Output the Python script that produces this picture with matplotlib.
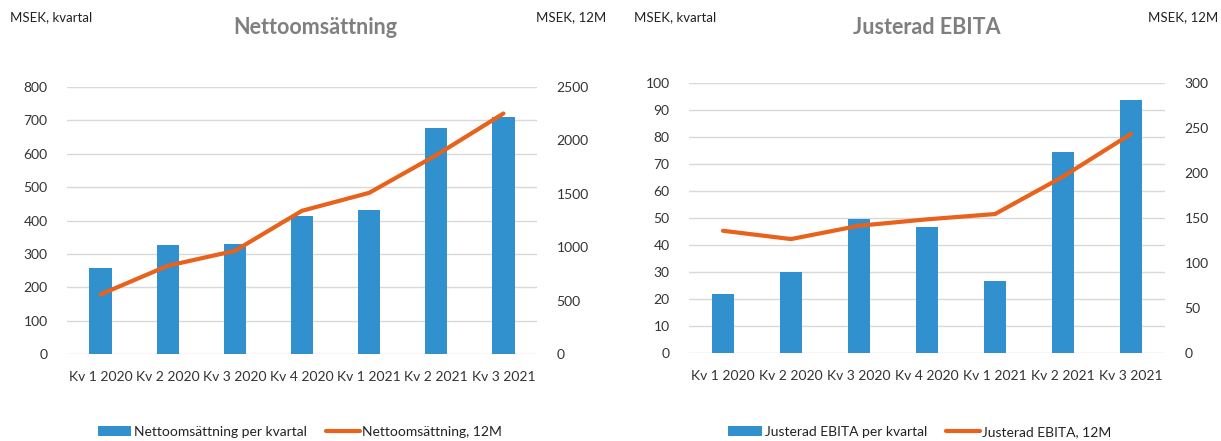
import numpy as np
import matplotlib.pyplot as plt

plt.rcParams['font.family'] = ['Lato', 'DejaVu Sans']

quarters = ["Kv 1 2020", "Kv 2 2020", "Kv 3 2020", "Kv 4 2020",
            "Kv 1 2021", "Kv 2 2021", "Kv 3 2021"]

# Nettoomsättning (MSEK)
sales_q = [257, 326, 329, 414, 430, 676, 711]
sales_12m = [558, 826, 966, 1341, 1509, 1862, 2252]

# Justerad EBITA (MSEK)
ebita_q = [22.0, 30.1, 49.5, 46.5, 26.6, 74.6, 93.8]
ebita_12m = [135.8, 126.6, 141.4, 148.5, 154.4, 196.0, 243.5]

BLUE = '#3091ce'
ORANGE = '#e8621b'
GRID = '#d9d9d9'
TXT = '#333333'

W, H = 1221, 441
fig = plt.figure(figsize=(W / 100, H / 100), dpi=100)


def px(x0, y0, x1, y1):
    # pixel box -> figure fraction rect
    return [x0 / W, 1 - y1 / H, (x1 - x0) / W, (y1 - y0) / H]


def panel(rect, bars, line, ymax, ystep, y2max, y2step, title, bar_lab, line_lab,
          title_x, left_x, right_x, leg_x):
    ax = fig.add_axes(px(*rect))
    x = np.arange(len(quarters))
    ax.bar(x, bars, width=0.33, color=BLUE, zorder=2, label=bar_lab)
    ax.set_xlim(-0.5, len(quarters) - 0.5)
    ax.set_ylim(0, ymax)
    ax.set_yticks(np.arange(0, ymax + ystep / 2, ystep))
    ax.set_xticks(x)
    ax.set_xticklabels(quarters)
    ax.grid(axis='y', color=GRID, linewidth=1, zorder=0)
    ax.set_axisbelow(True)
    for s in ax.spines.values():
        s.set_visible(False)
    ax.tick_params(length=0, labelsize=10, colors=TXT, pad=14)
    ax.tick_params(axis='x', pad=12)

    ax2 = ax.twinx()
    ax2.plot(x, line, color=ORANGE, linewidth=3, zorder=3, label=line_lab,
             solid_capstyle='round')
    ax2.set_ylim(0, y2max)
    ax2.set_yticks(np.arange(0, y2max + y2step / 2, y2step))
    for s in ax2.spines.values():
        s.set_visible(False)
    ax2.tick_params(length=0, labelsize=10, colors=TXT, pad=14)

    fig.text(title_x / W, 1 - 28 / H, title, ha='center', va='center',
             fontsize=15.5, fontweight='bold', color='#7f7f7f')
    fig.text(left_x / W, 1 - 17 / H, "MSEK, kvartal", ha='left', va='center',
             fontsize=9.5, color='#222222')
    fig.text(right_x / W, 1 - 17 / H, "MSEK, 12M", ha='right', va='center',
             fontsize=9.5, color='#222222')

    h1, l1 = ax.get_legend_handles_labels()
    h2, l2 = ax2.get_legend_handles_labels()
    fig.legend(h1 + h2, l1 + l2, loc='center', ncol=2, frameon=False,
               bbox_to_anchor=(leg_x / W, 1 - 432 / H), fontsize=10,
               handlelength=2.4, columnspacing=1.4, handletextpad=0.2,
               labelcolor='#222222')


panel((67, 87, 537, 354), sales_q, sales_12m, 800, 100, 2500, 500,
      "Nettoomsättning", "Nettoomsättning per kvartal", "Nettoomsättning, 12M",
      315, 10, 606, 300)
panel((689, 83, 1165, 353), ebita_q, ebita_12m, 100, 10, 300, 50,
      "Justerad EBITA", "Justerad EBITA per kvartal", "Justerad EBITA, 12M",
      927, 634, 1218, 920)

fig.savefig('out.png', dpi=100)
